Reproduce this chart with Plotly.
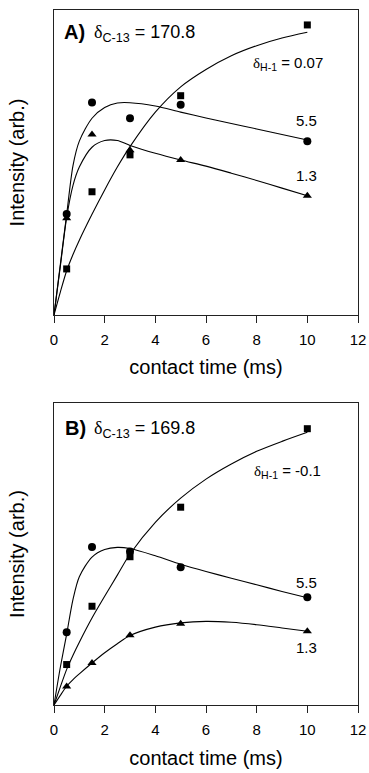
import plotly.graph_objects as go

# ---------------- data ----------------
t_pts = [0.5, 1.5, 3, 5, 10]

# Panel A  (delta C-13 = 170.8)
A_sq = [15.1, 40.4, 52.5, 71.9, 95.1]    # delta H-1 = 0.07
A_ci = [33.1, 69.7, 64.5, 68.9, 57.0]    # delta H-1 = 5.5
A_tr = [31.7, 59.2, 54.0, 50.8, 39.1]    # delta H-1 = 1.3

# Panel B  (delta C-13 = 169.8)
B_sq = [13.4, 32.7, 49.1, 65.5, 91.5]    # delta H-1 = -0.1
B_ci = [24.1, 52.3, 50.8, 45.6, 35.7]    # delta H-1 = 5.5
B_tr = [6.1, 13.9, 23.1, 26.9, 24.4]     # delta H-1 = 1.3

# fitted curves
fit_t = [0, 0.25, 0.5, 0.75, 1, 1.5, 2, 2.5, 3, 4, 5, 6, 7, 8, 9, 10]
A_sq_fit = [0, 7.5, 14.5, 19.8, 24.5, 33.0, 41.0, 48.5, 55.2, 66.5, 74.8, 80.5, 85.0, 88.3, 90.8, 92.7]
A_ci_fit = [0, 16.5, 33.0, 49.0, 57.0, 64.5, 68.0, 69.5, 69.6, 68.5, 66.5, 64.6, 62.8, 61.0, 59.2, 57.4]
A_tr_fit = [0, 16.0, 32.0, 42.5, 48.5, 55.0, 57.2, 57.2, 55.6, 53.0, 50.8, 48.8, 46.5, 44.1, 41.6, 39.1]
B_sq_fit = [0, 6.0, 11.8, 16.5, 20.8, 28.8, 36.0, 43.0, 50.0, 60.5, 68.5, 74.8, 79.8, 84.0, 87.3, 90.3]
B_ci_fit = [0, 12.5, 23.5, 35.0, 42.5, 49.0, 51.5, 52.2, 51.8, 49.4, 46.6, 44.2, 42.0, 39.8, 37.6, 35.5]
B_tr_fit = [0, 3.2, 6.2, 8.4, 10.3, 13.9, 17.3, 20.3, 23.0, 25.8, 27.2, 27.7, 27.4, 26.6, 25.5, 24.4]

x_ticks = [0, 2, 4, 6, 8, 10, 12]

# ---------------- figure ----------------
FONT = "Liberation Sans, Arial, sans-serif"
fig = go.Figure()

panels = [
    ("x", "y", A_sq, A_ci, A_tr, A_sq_fit, A_ci_fit, A_tr_fit),
    ("x2", "y2", B_sq, B_ci, B_tr, B_sq_fit, B_ci_fit, B_tr_fit),
]
for xa, ya, sq, ci, tr, sqf, cif, trf in panels:
    for f in (sqf, cif, trf):
        fig.add_trace(go.Scatter(x=fit_t, y=f, mode="lines",
                                 line=dict(color="black", width=1.1, shape="spline", smoothing=0.8),
                                 xaxis=xa, yaxis=ya, showlegend=False, hoverinfo="skip"))
    fig.add_trace(go.Scatter(x=t_pts, y=sq, mode="markers", marker=dict(symbol="square", size=7, color="black"),
                             xaxis=xa, yaxis=ya, showlegend=False))
    fig.add_trace(go.Scatter(x=t_pts, y=ci, mode="markers", marker=dict(symbol="circle", size=8, color="black"),
                             xaxis=xa, yaxis=ya, showlegend=False))
    fig.add_trace(go.Scatter(x=t_pts, y=tr, mode="markers", marker=dict(symbol="triangle-up", size=8, color="black"),
                             xaxis=xa, yaxis=ya, showlegend=False))

xcommon = dict(range=[0, 12], tickvals=x_ticks, ticks="outside", ticklen=7, tickwidth=1, tickcolor="#222",
               ticklabelstandoff=4,
               showline=True, linecolor="#222", linewidth=1, mirror=True, showgrid=False, zeroline=False,
               automargin=False,
               tickfont=dict(size=15, family=FONT, color="black"),
               title=dict(text="contact time (ms)", font=dict(size=20, family=FONT, color="black"), standoff=13))
ycommon = dict(range=[0, 100], showticklabels=False, ticks="", showline=True, linecolor="#222", linewidth=1,
               mirror=True, showgrid=False, zeroline=False, automargin=False,
               title=dict(text="Intensity (arb.)", font=dict(size=20, family=FONT, color="black"), standoff=22))

# plot areas: A spans y 10..315 px, B spans 403..705 px, x 54..358 px
fig.update_layout(
    width=369, height=773, margin=dict(l=54, r=11, t=10, b=68),
    paper_bgcolor="white", plot_bgcolor="white",
    font=dict(family=FONT, color="black"),
    xaxis=dict(domain=[0, 1], anchor="y", **xcommon),
    yaxis=dict(domain=[0.5612, 1], anchor="x", **ycommon),
    xaxis2=dict(domain=[0, 1], anchor="y2", **xcommon),
    yaxis2=dict(domain=[0, 0.4345], anchor="x2", **ycommon),
)

D = '<span style="font-family:Liberation Serif, Times New Roman, serif">δ</span>'
ann = [
    ("x", "y", 0.32, 92.8, "<b>A)</b>", 20, "left"),
    ("x", "y", 1.5, 92.3, D + "<sub>C-13</sub> = 170.8", 18, "left"),
    ("x", "y", 7.78, 82.6, D + "<sub>H-1</sub> = 0.07", 15, "left"),
    ("x", "y", 9.95, 63.9, "5.5", 15, "center"),
    ("x", "y", 9.95, 45.6, "1.3", 15, "center"),
    ("x2", "y2", 0.36, 91.7, "<b>B)</b>", 20, "left"),
    ("x2", "y2", 1.5, 91.2, D + "<sub>C-13</sub> = 169.8", 18, "left"),
    ("x2", "y2", 7.82, 77.2, D + "<sub>H-1</sub> = -0.1", 15, "left"),
    ("x2", "y2", 9.95, 40.7, "5.5", 15, "center"),
    ("x2", "y2", 9.95, 19.2, "1.3", 15, "center"),
]
for xr, yr, x, y, txt, sz, xa in ann:
    fig.add_annotation(xref=xr, yref=yr, x=x, y=y, text=txt, showarrow=False, xanchor=xa, yanchor="middle",
                       font=dict(size=sz, family=FONT, color="black"))

fig.write_html("out.html", config={"displayModeBar": False},
               post_script="document.body.style.margin='0';document.body.style.overflow='hidden';")
